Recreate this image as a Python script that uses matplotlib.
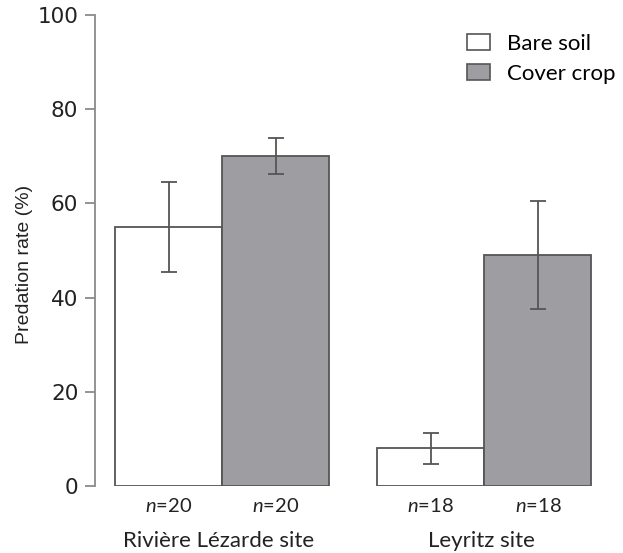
import matplotlib
matplotlib.use("Agg")
import matplotlib.pyplot as plt
from matplotlib.patches import Patch

# data
sites = ["Rivière Lézarde site", "Leyritz site"]
treatments = ["Bare soil", "Cover crop"]
bare_mean = [55, 8]
bare_err = [9.6, 3.3]
cover_mean = [70, 49]
cover_err = [3.8, 11.4]
n_labels = ["n=20", "n=20", "n=18", "n=18"]
yticks = [0, 20, 40, 60, 80, 100]

plt.rcParams["mathtext.fontset"] = "custom"
plt.rcParams["mathtext.it"] = "Lato:italic"
plt.rcParams["mathtext.rm"] = "Lato"

edge = "#555555"
grey = "#9e9ea2"
axis_col = "#8a8a8a"

fig = plt.figure(figsize=(6.23, 5.53), dpi=100)
ax = fig.add_axes([0.1525, 0.1212, 0.8106, 0.8517])

gap = 2.45
bare_x = [0, gap]
cover_x = [1, gap + 1]

ax.bar(bare_x, bare_mean, width=1.0, color="white", edgecolor=edge, linewidth=1.3)
ax.bar(cover_x, cover_mean, width=1.0, color=grey, edgecolor=edge, linewidth=1.3)
ax.errorbar(bare_x, bare_mean, yerr=bare_err, fmt="none", ecolor=edge,
            elinewidth=1.3, capsize=5.5, capthick=1.3)
ax.errorbar(cover_x, cover_mean, yerr=cover_err, fmt="none", ecolor=edge,
            elinewidth=1.3, capsize=5.5, capthick=1.3)

ax.set_xlim(-0.687, 4.03)
ax.set_ylim(0, 100)
for s in ["top", "right", "bottom"]:
    ax.spines[s].set_visible(False)
ax.spines["left"].set_color(axis_col)
ax.spines["left"].set_linewidth(1.3)
ax.set_xticks([])
ax.set_yticks(yticks)
ax.tick_params(axis="y", length=7, width=1.3, color=axis_col, pad=5,
               labelsize=15.5, labelcolor="#222222")
for lab in ax.get_yticklabels():
    lab.set_fontfamily("DejaVu Sans")
ax.set_ylabel("Predation rate (%)", fontsize=14, family="Liberation Sans",
              color="#222222", va="center")
ax.yaxis.set_label_coords(-0.139, 0.47)

# n labels and site names
all_x = [bare_x[0], cover_x[0], bare_x[1], cover_x[1]]
for x, lab in zip(all_x, n_labels):
    num = lab.split("=")[1]
    ax.text(x, -4.3, "$n$=" + num, ha="center", va="center", fontsize=14.5,
            family="Lato", color="#222222")
for i, site in enumerate(sites):
    ax.text((bare_x[i] + cover_x[i]) / 2 - 0.03, -11.7, site, ha="center",
            va="center", fontsize=16, family="Lato", color="#222222")

handles = [Patch(facecolor="white", edgecolor=edge, linewidth=1.2),
           Patch(facecolor=grey, edgecolor=edge, linewidth=1.2)]
fig.legend(handles, treatments, loc="upper left", bbox_to_anchor=(0.735, 0.955),
           frameon=False, prop={"family": "Lato", "size": 16},
           handlelength=1.05, handleheight=0.7, handletextpad=0.75,
           labelspacing=0.45, borderaxespad=0)

fig.savefig("out.png", dpi=100)
